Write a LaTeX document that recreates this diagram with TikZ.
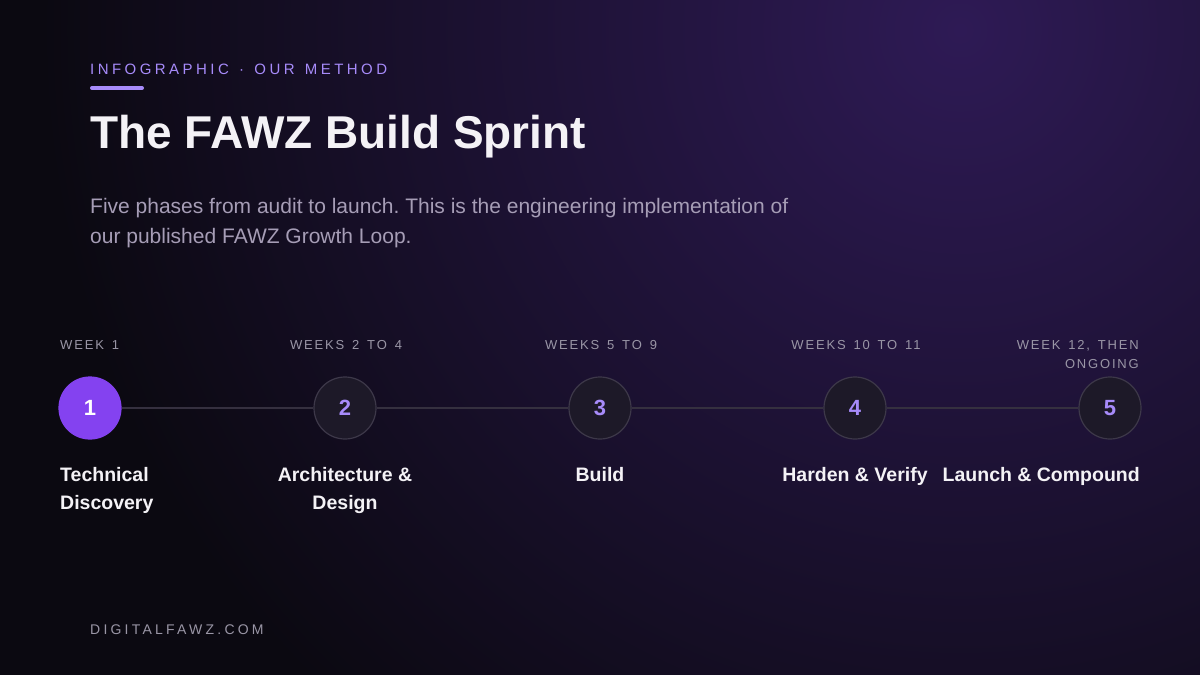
\documentclass[tikz,border=0pt]{standalone}
\usepackage{fontspec}
\setmainfont{Liberation Sans}
\newfontfamily\spacedfont[LetterSpace=23, WordSpace=1.35]{Liberation Sans}
\newfontfamily\weekfont[LetterSpace=14, WordSpace=1.45]{Liberation Sans}
\definecolor{bgdark}{HTML}{0B0911}
\definecolor{bgglow}{HTML}{2E1A55}
\definecolor{accent}{HTML}{A78BFA}
\definecolor{accentfill}{HTML}{8442F0}
\definecolor{ringfill}{HTML}{1D1928}
\definecolor{ringline}{HTML}{3D3849}
\definecolor{weekgrey}{HTML}{9A96A6}
\definecolor{subgrey}{HTML}{A69DB6}
\definecolor{railgrey}{HTML}{35303F}
\definecolor{titlewhite}{HTML}{F4F2F6}
\frenchspacing

\begin{document}
\begin{tikzpicture}
[every node/.style={inner sep=0pt},
 phase/.style={circle, minimum size=62pt, fill=ringfill, line width=1.2pt, draw=ringline, text=accent, font=\fontsize{22}{22}\selectfont\bfseries},
 current/.style={phase, fill=accentfill, draw=accentfill, text=white},
 week/.style={text=weekgrey, font=\weekfont\fontsize{13}{19}\selectfont},
 phasename/.style={text=titlewhite, font=\fontsize{19.5}{27.3}\selectfont\bfseries},
 rail/.style={line width=1.5pt, color=railgrey}]
% background with glow
\useasboundingbox (0pt, 0pt) rectangle (1200pt, -675pt);
\fill [bgdark] (0pt, 0pt) rectangle (1200pt, -675pt);
\begin{scope}
\clip (0pt, 0pt) rectangle (1200pt, -675pt);
\shade [inner color=bgglow, outer color=bgdark] (960pt, -30pt) circle (920pt);
\end{scope}
% header
\node (eyebrow) [anchor=base west, text=accent, font=\spacedfont\fontsize{15}{15}\selectfont] at (90pt, -74pt) {INFOGRAPHIC · OUR METHOD};
\draw [line width=4pt, line cap=round, color=accent] (92pt, -88pt) -- (142pt, -88pt);
\node (title) [anchor=base west, text=titlewhite, font=\fontsize{46}{46}\selectfont\bfseries] at (90pt, -148pt) {The FAWZ Build Sprint};
\node (intro) [anchor=north west, align=left, text=subgrey, font=\fontsize{21}{29.4}\selectfont] at (90pt, -198.5pt) {Five phases from audit to launch. This is the engineering implementation of\\our published FAWZ Growth Loop.};
% timeline
\node (p1) [current] at (90pt, -408pt) {1};
\node (p2) [phase] at (345pt, -408pt) {2};
\node (p3) [phase] at (600pt, -408pt) {3};
\node (p4) [phase] at (855pt, -408pt) {4};
\node (p5) [phase] at (1110pt, -408pt) {5};
\draw [rail] (p1) -- (p2);
\draw [rail] (p2) -- (p3);
\draw [rail] (p3) -- (p4);
\draw [rail] (p4) -- (p5);
\node (w1) [week, anchor=north west] at (60pt, -340.5pt) {WEEK 1};
\node (w2) [week, anchor=north] at (346pt, -340.5pt) {WEEKS 2 TO 4};
\node (w3) [week, anchor=north] at (601pt, -340.5pt) {WEEKS 5 TO 9};
\node (w4) [week, anchor=north] at (856pt, -340.5pt) {WEEKS 10 TO 11};
\node (w5) [week, anchor=north east, align=right] at (1139pt, -340.5pt) {WEEK 12, THEN\\ONGOING};
\node (t1) [phasename, anchor=north west, align=left] at (60pt, -467.5pt) {Technical\\Discovery};
\node (t2) [phasename, anchor=north, align=center] at (345pt, -467.5pt) {Architecture \&\\Design};
\node (t3) [phasename, anchor=north] at (600pt, -467.5pt) {Build};
\node (t4) [phasename, anchor=north] at (855pt, -467.5pt) {Harden \& Verify};
\node (t5) [phasename, anchor=north east] at (1140pt, -467.5pt) {Launch \& Compound};
% footer
\node (site) [anchor=base west, text=weekgrey, font=\spacedfont\fontsize{14}{14}\selectfont] at (90pt, -634pt) {DIGITALFAWZ.COM};
\end{tikzpicture}
\end{document}
